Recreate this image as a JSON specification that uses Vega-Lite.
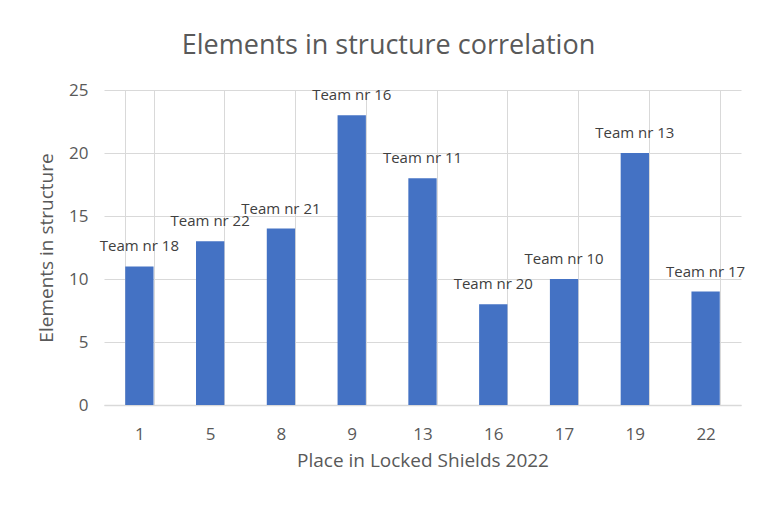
{
  "$schema": "https://vega.github.io/schema/vega-lite/v6.json",
  "autosize": {"type": "none"},
  "width": 637,
  "height": 315,
  "padding": {"left": 104, "top": 90, "right": 17, "bottom": 104},
  "background": "white",
  "config": {
    "font": "Open Sans",
    "view": {"stroke": null}
  },
  "title": {
    "text": "Elements in structure correlation",
    "fontSize": 27,
    "fontWeight": "normal",
    "color": "#595959",
    "anchor": "middle",
    "frame": "group",
    "dx": -34,
    "offset": 21
  },
  "data": {
    "values": [
      {"place": "1", "elements": 11, "team": "Team nr 18"},
      {"place": "5", "elements": 13, "team": "Team nr 22"},
      {"place": "8", "elements": 14, "team": "Team nr 21"},
      {"place": "9", "elements": 23, "team": "Team nr 16"},
      {"place": "13", "elements": 18, "team": "Team nr 11"},
      {"place": "16", "elements": 8, "team": "Team nr 20"},
      {"place": "17", "elements": 10, "team": "Team nr 10"},
      {"place": "19", "elements": 20, "team": "Team nr 13"},
      {"place": "22", "elements": 9, "team": "Team nr 17"}
    ]
  },
  "encoding": {
    "x": {
      "field": "place",
      "type": "ordinal",
      "sort": null,
      "scale": {"paddingInner": 0.6, "paddingOuter": 0.3},
      "axis": {
        "title": "Place in Locked Shields 2022",
        "titleFont": "Open Sans",
        "titleFontSize": 19,
        "titleFontWeight": "normal",
        "titleColor": "#595959",
        "titlePadding": 9,
        "labelAngle": 0,
        "labelFontSize": 17,
        "labelColor": "#595959",
        "labelPadding": 21,
        "ticks": false,
        "tickBand": "extent",
        "grid": true,
        "gridColor": "#d9d9d9",
        "gridWidth": 1,
        "domain": true,
        "domainColor": "#d9d9d9",
        "domainWidth": 1.5
      }
    },
    "y": {
      "field": "elements",
      "type": "quantitative",
      "scale": {"domain": [0, 25], "nice": false},
      "axis": {
        "title": "Elements in structure",
        "titleFont": "Open Sans",
        "titleFontSize": 19,
        "titleFontWeight": "normal",
        "titleColor": "#595959",
        "titlePadding": 12,
        "values": [0, 5, 10, 15, 20, 25],
        "labelFontSize": 17,
        "labelColor": "#595959",
        "labelPadding": 16,
        "ticks": false,
        "domain": false,
        "grid": true,
        "gridColor": "#d9d9d9",
        "gridWidth": 1
      }
    }
  },
  "layer": [
    {"mark": {"type": "bar", "color": "#4472C4"}},
    {
      "mark": {"type": "text", "baseline": "middle", "dy": -20, "fontSize": 15, "color": "#404040"},
      "encoding": {"text": {"field": "team"}}
    }
  ]
}
